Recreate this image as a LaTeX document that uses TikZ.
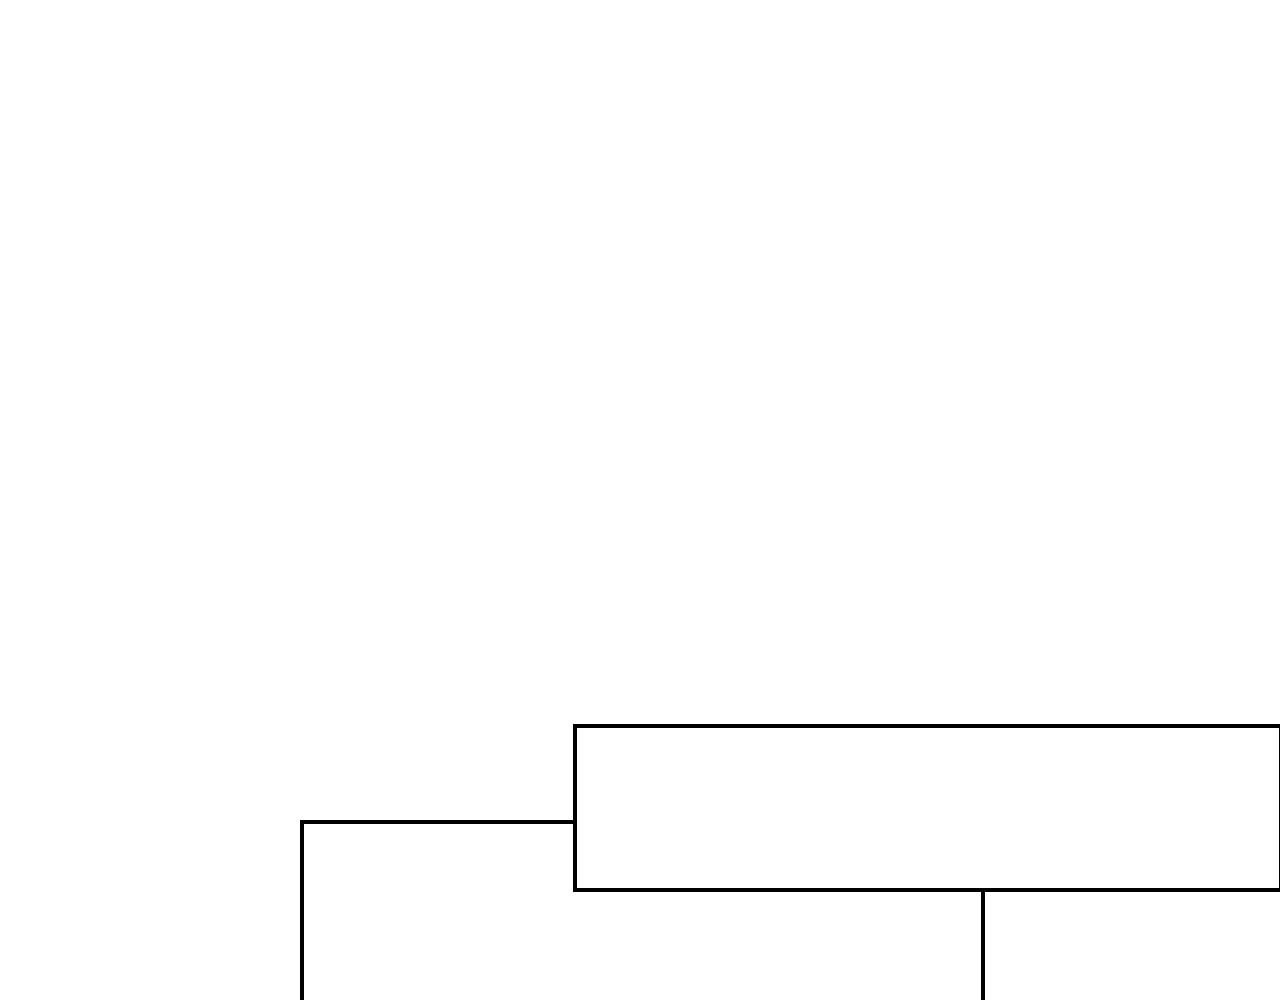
\documentclass[tikz,border=0pt]{standalone}
\begin{document}
\begin{tikzpicture}[x=1pt,y=1pt,
  boxstyle/.style={draw=black,line width=4pt,rectangle,inner sep=0pt,outer sep=0pt,minimum width=706pt,minimum height=164pt},
  wire/.style={draw=black,line width=4pt}]
\useasboundingbox (0,0) rectangle (1280,1000);
\fill[white] (0,0) rectangle (1280,1000);
\clip (0,0) rectangle (1280,1000);
\node[boxstyle] (box) at (928,192) {};
\coordinate (leftend) at (302,-10);
\coordinate (rightend) at (983,-10);
\draw[wire] ([yshift=-14pt]box.west) -| (leftend);
\draw[wire] (box.south -| rightend) -- (rightend);
\end{tikzpicture}
\end{document}
